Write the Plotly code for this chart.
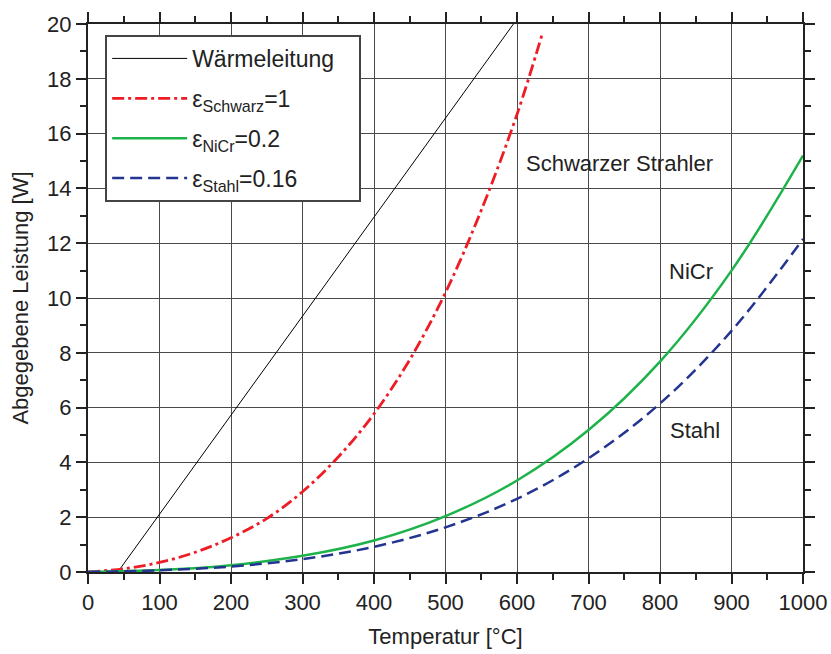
import plotly.graph_objects as go

# Data
temp_cond = [45, 595]
p_cond = [0.12, 20.0]

temp_rad = [0, 50, 100, 150, 200, 250, 300, 350, 400, 450, 500, 550, 600, 636]
p_schwarz = [0.0, 0.12, 0.35, 0.72, 1.25, 1.95, 2.93, 4.2, 5.77, 7.75, 10.2, 13.2, 16.7, 19.7]

temp_full = [0, 100, 200, 300, 400, 500, 600, 700, 800, 900, 1000]
p_nicr = [0.0, 0.07, 0.25, 0.59, 1.15, 2.04, 3.34, 5.18, 7.68, 11.0, 15.2]
p_stahl = [0.0, 0.06, 0.2, 0.47, 0.92, 1.63, 2.67, 4.15, 6.15, 8.8, 12.15]

x_ticks = [0, 100, 200, 300, 400, 500, 600, 700, 800, 900, 1000]
y_ticks = [0, 2, 4, 6, 8, 10, 12, 14, 16, 18, 20]

labels = ["Schwarzer Strahler", "NiCr", "Stahl"]
label_x = [744, 844, 849]
label_y = [14.9, 10.95, 5.15]

FONT = "Liberation Sans, Arial, sans-serif"
TXT = "#222"

fig = go.Figure()
fig.add_trace(go.Scatter(x=temp_cond, y=p_cond, mode="lines", name="Wärmeleitung\u00a0\u00a0\u00a0",
                         legendgroup="a", line=dict(color="black", width=1)))
fig.add_trace(go.Scatter(x=temp_rad, y=p_schwarz, mode="lines", name="ε<sub>Schwarz</sub>=1",
                         legendgroup="b", line=dict(color="#ee1c25", width=2.8, dash="12px,4px,3px,4px", shape="spline")))
fig.add_trace(go.Scatter(x=temp_full, y=p_nicr, mode="lines", name="ε<sub>NiCr</sub>=0.2",
                         legendgroup="c", line=dict(color="#1db34a", width=2.5, shape="spline")))
fig.add_trace(go.Scatter(x=temp_full, y=p_stahl, mode="lines", name="ε<sub>Stahl</sub>=0.16",
                         legendgroup="d", line=dict(color="#233591", width=2.5, dash="12px,6px", shape="spline")))

for t, xx, yy in zip(labels, label_x, label_y):
    fig.add_annotation(x=xx, y=yy, text=t, showarrow=False,
                       font=dict(family=FONT, size=22, color=TXT))

axis_common = dict(
    showline=True, linecolor=TXT, linewidth=2, mirror="ticks",
    ticks="outside", ticklen=10, tickwidth=2, tickcolor=TXT,
    showgrid=True, gridcolor="#4a4a4a", gridwidth=1.2, zeroline=False,
    tickfont=dict(family=FONT, size=22, color=TXT),
    automargin=False,
)

fig.update_xaxes(range=[0, 1000], tickvals=x_ticks, **axis_common,
                 minor=dict(dtick=50, ticks="outside", ticklen=6, tickwidth=2, tickcolor=TXT, showgrid=False),
                 title=dict(text="Temperatur [°C]", font=dict(family=FONT, size=22, color=TXT), standoff=14))
fig.update_yaxes(range=[0, 20], tickvals=y_ticks, **axis_common,
                 minor=dict(dtick=1, ticks="outside", ticklen=6, tickwidth=2, tickcolor=TXT, showgrid=False),
                 title=dict(text="Abgegebene Leistung [W]", font=dict(family=FONT, size=22, color=TXT), standoff=12))

fig.update_layout(
    width=831, height=654,
    margin=dict(l=88, r=28, t=24, b=82),
    plot_bgcolor="white", paper_bgcolor="white",
    showlegend=True,
    legend=dict(x=0.024, y=0.98, xanchor="left", yanchor="top",
                bgcolor="white", bordercolor="#444", borderwidth=2,
                font=dict(family=FONT, size=23, color=TXT),
                tracegroupgap=7, itemwidth=75),
)

fig.write_html(
    "out.html",
    config={"displayModeBar": False},
    post_script="document.body.style.margin='0';document.body.style.overflow='hidden';",
)
